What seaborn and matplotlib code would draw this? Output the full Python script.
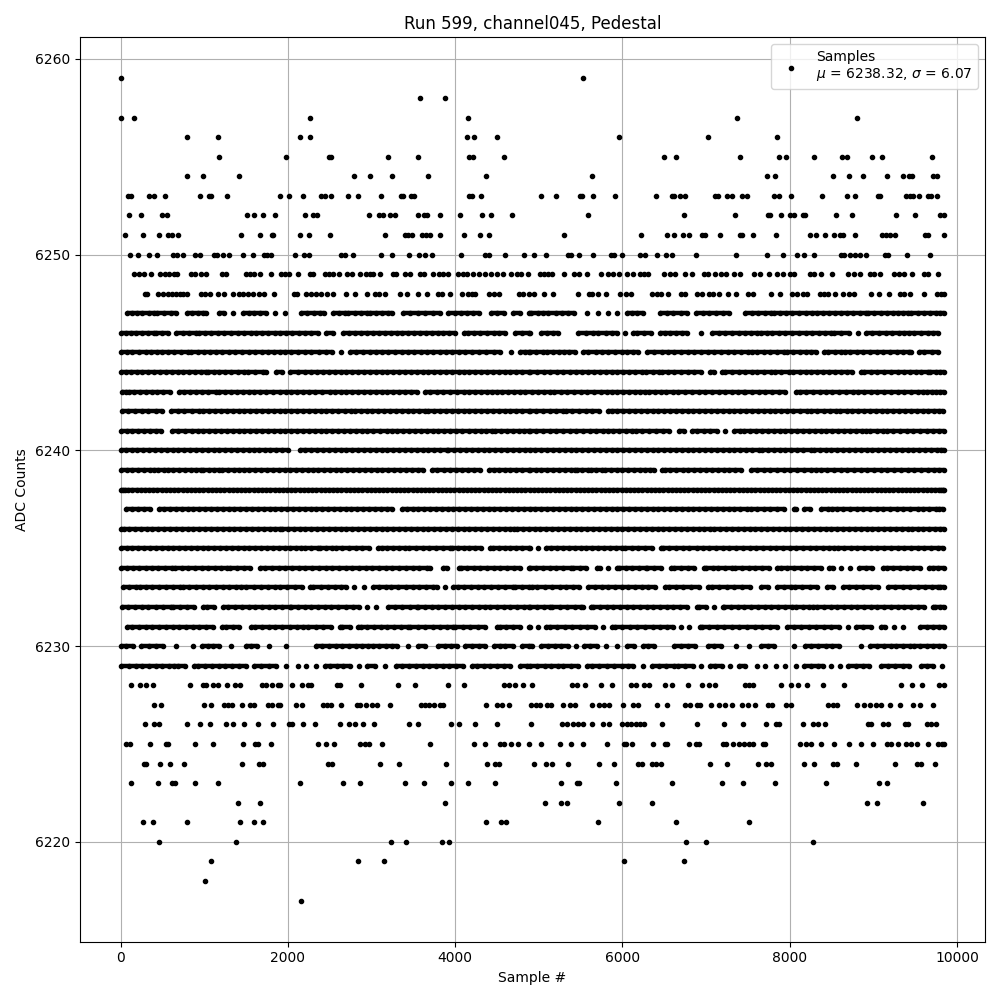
import matplotlib
matplotlib.use("Agg")
import matplotlib.pyplot as plt
import pandas as pd
import seaborn as sns

s6259 = [0, 5532]
s6258 = [3584, 3884]
s6257 = [8, 164, 2264, 4148, 7368, 8808]
s6256 = [788, 1160, 2144, 2264, 4136, 4220, 4496, 5964, 7020, 7848]
s6255 = [1172, 1976, 2492, 2512, 3200, 3560, 4160, 4208, 4580, 6492, 6636, 7404, 7872, 7956, 8292, 8628, 8688, 8988, 9108, 9708]
s6254 = [788, 980, 1412, 2792, 2984, 3248, 3680, 4364, 5640, 7728, 7824, 8520, 8712, 8880, 9168, 9360, 9432, 9468, 9716, 9768]
s6253 = [88, 124, 344, 404, 524, 944, 1052, 1076, 1268, 1904, 2012, 2180, 2392, 2444, 2516, 2720, 2840, 3116, 3356, 3380, 3476, 3512, 4160, 4196, 4304, 5028, 5208, 5496, 5520, 5652, 5916, 6396, 6588, 6612, 6684, 6744, 7104, 7140, 7248, 7308, 7428, 7488, 7812, 7872, 8016, 8388, 8688, 8784, 9060, 9084, 9396, 9444, 9480, 9552, 9660, 9696, 9768]
s6252 = [104, 248, 500, 552, 1508, 1592, 1700, 1844, 2204, 2300, 2348, 2972, 3092, 3140, 3224, 3284, 3560, 3632, 3668, 3824, 4052, 4316, 4424, 4676, 5592, 6732, 7344, 7740, 7764, 7896, 8004, 8052, 8160, 8184, 8556, 8748, 9276, 9504, 9804, 9840]
s6251 = [56, 272, 464, 560, 608, 680, 1436, 1664, 1808, 1820, 2144, 2252, 2504, 3164, 3404, 3440, 3488, 3608, 3656, 3704, 3824, 4100, 4292, 4400, 5304, 6228, 6528, 6612, 6720, 6792, 6948, 6984, 7164, 7404, 7428, 7560, 7836, 8244, 8316, 8424, 8532, 8604, 8640, 8784, 9108, 9156, 9204, 9264, 9624, 9660, 9840]
s6250 = [116, 212, 344, 440, 620, 668, 740, 884, 944, 1112, 1148, 1220, 1292, 1460, 1580, 1712, 1748, 1796, 2084, 2192, 2252, 2636, 2684, 2780, 3116, 3248, 3452, 3572, 3644, 3728, 4064, 4352, 4400, 4592, 4820, 4944, 5088, 5352, 5388, 5484, 5652, 5868, 5904, 6000, 6216, 6276, 6408, 6520, 6588, 6876, 7356, 7728, 7920, 8088, 8172, 8292, 8616, 8652, 8724, 8784, 8844, 8916, 9144, 9180, 9408, 9684]
s6249 = [164, 224, 284, 368, 476, 524, 572, 632, 668, 836, 884, 956, 1016, 1208, 1256, 1496, 1544, 1592, 1664, 1796, 1916, 1964, 2012, 2120, 2264, 2300, 2444, 2492, 2540, 2612, 2708, 2768, 2864, 2936, 2984, 3020, 3104, 3260, 3296, 3404, 3464, 3584, 3632, 3740, 3812, 3860, 3920, 4028, 4088, 4136, 4208, 4280, 4352, 4424, 4496, 4568, 4664, 4736, 4784, 4868, 5016, 5064, 5112, 5160, 5304, 5424, 5484, 5580, 5748, 5832, 5892, 5964, 6060, 6132, 6216, 6264, 6312, 6496, 6564, 6624, 6744, 6828, 6972, 7020, 7104, 7176, 7236, 7332, 7404, 7572, 7644, 7752, 7848, 7920, 8004, 8052, 8244, 8292, 8376, 8508, 8700, 8772, 8844, 8964, 9012, 9084, 9252, 9312, 9372, 9468, 9612, 9660, 9780]
s6248 = [292, 316, 452, 512, 560, 608, 656, 704, 740, 788, 956, 1004, 1064, 1160, 1232, 1340, 1412, 1460, 1520, 1580, 1652, 1712, 1832, 2072, 2108, 2216, 2276, 2336, 2396, 2468, 2540, 2696, 2804, 2948, 3044, 3092, 3164, 3344, 3428, 3560, 3668, 3800, 3848, 3944, 4076, 4148, 4196, 4232, 4400, 4460, 4520, 4760, 4808, 4880, 4944, 5064, 5172, 5468, 5604, 5640, 5712, 5808, 5976, 6048, 6108, 6348, 6408, 6456, 6540, 6696, 6744, 6888, 6948, 7032, 7080, 7152, 7260, 7356, 7500, 7560, 7776, 7884, 8028, 8088, 8160, 8208, 8364, 8412, 8460, 8544, 8640, 8712, 8772, 8976, 9072, 9192, 9324, 9372, 9444, 9612, 9768, 9810, 9844]
s6247 = [80, 140, 200, 260, 340, 400, 440, 520, 600, 660, 788, 850, 920, 980, 1020, 1180, 1240, 1348, 1460, 1530, 1600, 1670, 1740, 1840, 1960, 2160, 2230, 2310, 2380, 2428, 2540, 2610, 2680, 2720, 2800, 2870, 2940, 2980, 3050, 3130, 3200, 3240, 3380, 3460, 3550, 3640, 3732, 3820, 3920, 4000, 4070, 4140, 4210, 4280, 4428, 4500, 4580, 4692, 4770, 4880, 4912, 4992, 5050, 5112, 5204, 5280, 5352, 5424, 5572, 5704, 5832, 5940, 6052, 6110, 6172, 6252, 6452, 6530, 6610, 6700, 6772, 6884, 6964, 7040, 7120, 7200, 7272, 7464, 7552, 7620, 7700, 7772, 7812, 7880, 7952, 8032, 8112, 8190, 8272, 8332, 8400, 8470, 8540, 8610, 8690, 8760, 8840, 8912, 8940, 9010, 9090, 9160, 9232, 9292, 9350, 9412, 9452, 9530, 9612, 9684, 9752, 9800, 9844]
s6246 = [0, 60, 120, 180, 250, 330, 400, 420, 490, 560, 660, 740, 820, 900, 940, 1010, 1080, 1160, 1240, 1320, 1400, 1480, 1560, 1620, 1690, 1760, 1840, 1910, 1980, 2050, 2130, 2200, 2280, 2360, 2460, 2540, 2660, 2730, 2800, 2870, 2950, 3020, 3090, 3160, 3230, 3300, 3370, 3440, 3510, 3580, 3650, 3720, 3790, 3860, 3930, 4000, 4100, 4148, 4220, 4300, 4380, 4460, 4530, 4600, 4720, 4800, 4880, 4892, 5032, 5100, 5170, 5232, 5472, 5560, 5652, 5712, 5800, 5872, 5932, 6030, 6132, 6180, 6260, 6340, 6444, 6512, 6572, 6640, 6710, 6772, 6944, 7072, 7150, 7230, 7310, 7390, 7470, 7540, 7612, 7660, 7732, 7792, 7870, 7950, 8030, 8110, 8190, 8270, 8350, 8420, 8492, 8532, 8620, 8710, 8812, 8912, 8990, 9070, 9150, 9230, 9312, 9372, 9432, 9492, 9570, 9650, 9720, 9780]
s6245 = [0, 70, 140, 220, 300, 360, 430, 500, 570, 640, 720, 800, 840, 920, 1000, 1070, 1140, 1212, 1290, 1370, 1450, 1530, 1610, 1692, 1760, 1830, 1900, 1970, 2040, 2120, 2200, 2280, 2370, 2460, 2528, 2636, 2740, 2820, 2900, 2980, 3050, 3130, 3200, 3280, 3360, 3430, 3510, 3590, 3660, 3740, 3820, 3890, 3960, 4040, 4120, 4200, 4280, 4370, 4460, 4532, 4668, 4772, 4830, 4880, 4892, 4970, 5052, 5100, 5170, 5240, 5300, 5364, 5432, 5532, 5592, 5680, 5752, 5830, 5910, 5990, 6060, 6130, 6192, 6292, 6380, 6472, 6540, 6620, 6700, 6780, 6860, 6940, 7020, 7100, 7180, 7260, 7340, 7420, 7500, 7552, 7612, 7690, 7770, 7850, 7932, 7972, 8040, 8120, 8190, 8252, 8312, 8412, 8464, 8540, 8612, 8664, 8724, 8800, 8880, 8960, 9040, 9120, 9200, 9280, 9360, 9432, 9452, 9552, 9612, 9700, 9770]
s6244 = [0, 60, 120, 190, 260, 330, 400, 470, 540, 610, 680, 750, 820, 890, 960, 1020, 1040, 1110, 1180, 1250, 1320, 1400, 1480, 1520, 1610, 1700, 1740, 1860, 1932, 2030, 2120, 2208, 2280, 2350, 2420, 2490, 2560, 2630, 2700, 2770, 2840, 2910, 2980, 3050, 3120, 3190, 3260, 3330, 3400, 3470, 3540, 3610, 3680, 3750, 3820, 3890, 3960, 4040, 4100, 4170, 4240, 4310, 4380, 4450, 4520, 4590, 4660, 4730, 4800, 4880, 4892, 4980, 5060, 5140, 5220, 5292, 5372, 5450, 5520, 5590, 5660, 5730, 5800, 5870, 5940, 6010, 6080, 6150, 6232, 6284, 6360, 6432, 6472, 6550, 6620, 6700, 6780, 6860, 6940, 7052, 7092, 7192, 7232, 7310, 7390, 7470, 7552, 7612, 7690, 7772, 7820, 7900, 7992, 8044, 8120, 8190, 8260, 8330, 8400, 8470, 8540, 8610, 8680, 8750, 8852, 8892, 8970, 9050, 9130, 9210, 9290, 9370, 9440, 9512, 9572, 9652, 9684, 9750, 9800, 9844]
s6243 = [12, 60, 100, 160, 230, 300, 370, 440, 510, 588, 692, 760, 830, 900, 970, 1050, 1140, 1180, 1250, 1320, 1390, 1460, 1530, 1600, 1670, 1740, 1820, 1900, 1972, 2040, 2110, 2180, 2250, 2320, 2410, 2500, 2560, 2630, 2700, 2770, 2840, 2910, 2980, 3050, 3120, 3190, 3260, 3330, 3400, 3470, 3540, 3640, 3700, 3780, 3860, 3940, 4020, 4100, 4160, 4240, 4310, 4380, 4440, 4500, 4560, 4628, 4700, 4770, 4840, 4924, 4992, 5060, 5132, 5184, 5260, 5340, 5420, 5500, 5580, 5660, 5740, 5810, 5872, 5940, 6010, 6080, 6150, 6210, 6272, 6324, 6392, 6460, 6520, 6600, 6664, 6752, 6830, 6910, 6990, 7070, 7150, 7230, 7310, 7380, 7452, 7472, 7550, 7630, 7710, 7790, 7870, 7950, 8072, 8124, 8200, 8280, 8360, 8432, 8512, 8590, 8670, 8752, 8812, 8890, 8970, 9050, 9130, 9210, 9290, 9370, 9450, 9530, 9590, 9640, 9700, 9750, 9800, 9844]
s6242 = [12, 90, 170, 250, 330, 420, 500, 600, 680, 760, 850, 940, 988, 1060, 1130, 1200, 1270, 1340, 1410, 1480, 1550, 1620, 1690, 1760, 1830, 1900, 1970, 2040, 2110, 2180, 2250, 2320, 2390, 2460, 2530, 2600, 2680, 2760, 2800, 2870, 2940, 3010, 3080, 3150, 3220, 3290, 3360, 3430, 3500, 3570, 3640, 3680, 3750, 3820, 3890, 3960, 4030, 4100, 4170, 4240, 4310, 4380, 4450, 4520, 4590, 4660, 4730, 4800, 4880, 4892, 4970, 5050, 5130, 5210, 5292, 5324, 5400, 5480, 5560, 5640, 5720, 5832, 5872, 5940, 6010, 6080, 6150, 6220, 6290, 6360, 6430, 6500, 6570, 6640, 6710, 6780, 6850, 6920, 6990, 7060, 7130, 7200, 7270, 7340, 7410, 7480, 7550, 7620, 7690, 7760, 7830, 7900, 7970, 8040, 8120, 8212, 8252, 8330, 8410, 8480, 8552, 8604, 8680, 8750, 8820, 8890, 8960, 9030, 9100, 9170, 9240, 9310, 9380, 9450, 9520, 9590, 9660, 9730, 9790, 9830]
s6241 = [0, 70, 140, 210, 280, 350, 420, 480, 612, 690, 770, 852, 920, 990, 1060, 1130, 1200, 1270, 1340, 1410, 1480, 1550, 1620, 1690, 1760, 1830, 1900, 1970, 2040, 2110, 2180, 2250, 2320, 2390, 2460, 2530, 2600, 2670, 2740, 2810, 2880, 2950, 3020, 3100, 3180, 3240, 3310, 3380, 3450, 3520, 3590, 3660, 3730, 3800, 3870, 3940, 4010, 4080, 4160, 4240, 4308, 4370, 4440, 4480, 4550, 4620, 4690, 4760, 4820, 4880, 4892, 4970, 5050, 5130, 5210, 5290, 5370, 5450, 5530, 5610, 5690, 5770, 5832, 5884, 5960, 6040, 6112, 6164, 6240, 6320, 6400, 6480, 6560, 6672, 6732, 6832, 6892, 6970, 7050, 7130, 7224, 7332, 7404, 7460, 7530, 7600, 7670, 7740, 7810, 7880, 7950, 8020, 8090, 8160, 8230, 8300, 8370, 8440, 8510, 8580, 8650, 8720, 8790, 8860, 8912, 8964, 9040, 9112, 9164, 9240, 9320, 9400, 9480, 9560, 9640, 9720, 9790, 9840]
s6240 = [0, 60, 130, 200, 270, 340, 410, 480, 550, 620, 690, 760, 830, 900, 970, 1040, 1110, 1180, 1250, 1320, 1390, 1460, 1530, 1600, 1652, 1720, 1790, 1860, 1930, 2000, 2140, 2210, 2280, 2350, 2420, 2490, 2560, 2630, 2700, 2770, 2840, 2910, 2980, 3050, 3120, 3190, 3260, 3330, 3400, 3470, 3540, 3610, 3680, 3750, 3820, 3900, 3920, 3990, 4060, 4130, 4200, 4270, 4340, 4410, 4480, 4550, 4620, 4690, 4760, 4830, 4892, 4960, 5030, 5100, 5170, 5240, 5310, 5380, 5450, 5520, 5590, 5660, 5730, 5800, 5870, 5940, 6010, 6080, 6150, 6220, 6290, 6360, 6430, 6500, 6570, 6640, 6710, 6780, 6850, 6920, 6990, 7060, 7130, 7200, 7270, 7340, 7410, 7480, 7550, 7632, 7672, 7740, 7810, 7880, 7950, 8020, 8090, 8160, 8252, 8292, 8360, 8430, 8500, 8570, 8640, 8710, 8780, 8850, 8920, 8990, 9060, 9130, 9200, 9270, 9340, 9410, 9480, 9550, 9620, 9690, 9760, 9810, 9844]
s6239 = [0, 70, 140, 210, 280, 350, 400, 452, 520, 560, 628, 700, 770, 840, 900, 960, 988, 1060, 1120, 1180, 1212, 1280, 1350, 1420, 1480, 1540, 1610, 1680, 1750, 1820, 1890, 1960, 2030, 2100, 2170, 2240, 2300, 2360, 2430, 2500, 2570, 2640, 2710, 2780, 2850, 2920, 2990, 3060, 3130, 3200, 3270, 3340, 3410, 3480, 3550, 3620, 3720, 3788, 3868, 3940, 4010, 4080, 4150, 4220, 4300, 4400, 4460, 4520, 4590, 4660, 4730, 4800, 4880, 4892, 4972, 5032, 5100, 5170, 5240, 5310, 5380, 5432, 5452, 5520, 5592, 5620, 5690, 5752, 5792, 5860, 5930, 6000, 6070, 6140, 6210, 6270, 6332, 6372, 6472, 6512, 6572, 6644, 6720, 6790, 6860, 6930, 7000, 7070, 7140, 7210, 7280, 7350, 7420, 7532, 7612, 7690, 7770, 7850, 7930, 8010, 8090, 8170, 8250, 8310, 8372, 8452, 8530, 8610, 8690, 8770, 8850, 8930, 9010, 9090, 9170, 9250, 9330, 9410, 9490, 9570, 9650, 9730, 9790, 9840]
s6238 = [0, 25, 50, 90, 140, 190, 240, 290, 340, 390, 440, 490, 540, 590, 640, 690, 740, 790, 840, 890, 940, 990, 1040, 1090, 1140, 1190, 1240, 1290, 1340, 1390, 1440, 1490, 1540, 1590, 1640, 1690, 1740, 1790, 1840, 1890, 1940, 1990, 2040, 2090, 2140, 2190, 2240, 2290, 2340, 2390, 2440, 2490, 2540, 2590, 2640, 2690, 2740, 2790, 2840, 2890, 2940, 2990, 3040, 3090, 3140, 3190, 3240, 3290, 3340, 3390, 3440, 3490, 3540, 3590, 3640, 3690, 3740, 3790, 3840, 3890, 3940, 3990, 4040, 4090, 4140, 4190, 4240, 4290, 4340, 4390, 4440, 4490, 4540, 4590, 4640, 4690, 4740, 4790, 4840, 4890, 4940, 4990, 5040, 5090, 5140, 5190, 5240, 5290, 5340, 5390, 5440, 5490, 5540, 5590, 5640, 5690, 5740, 5790, 5840, 5890, 5940, 5990, 6040, 6090, 6140, 6190, 6240, 6290, 6340, 6390, 6440, 6490, 6540, 6590, 6640, 6690, 6740, 6790, 6840, 6890, 6940, 6990, 7040, 7090, 7140, 7190, 7240, 7290, 7340, 7390, 7440, 7490, 7540, 7590, 7640, 7690, 7740, 7790, 7840, 7890, 7940, 7990, 8040, 8090, 8140, 8190, 8240, 8290, 8340, 8390, 8440, 8490, 8540, 8590, 8640, 8690, 8740, 8790, 8840, 8890, 8940, 8990, 9040, 9090, 9140, 9190, 9240, 9290, 9340, 9390, 9440, 9490, 9540, 9590, 9640, 9690, 9740, 9790, 9810, 9830, 9844]
s6237 = [68, 140, 210, 280, 350, 460, 520, 590, 660, 730, 800, 870, 940, 1010, 1080, 1150, 1220, 1290, 1360, 1430, 1500, 1570, 1640, 1710, 1780, 1850, 1920, 1990, 2060, 2130, 2200, 2270, 2340, 2410, 2480, 2550, 2620, 2690, 2760, 2830, 2900, 2970, 3040, 3110, 3180, 3250, 3360, 3420, 3490, 3560, 3630, 3700, 3770, 3840, 3910, 3980, 4050, 4120, 4190, 4260, 4330, 4400, 4470, 4540, 4610, 4680, 4750, 4820, 4892, 4960, 5030, 5100, 5170, 5240, 5310, 5380, 5450, 5520, 5590, 5660, 5730, 5800, 5870, 5940, 6010, 6080, 6150, 6220, 6290, 6360, 6430, 6500, 6570, 6640, 6710, 6780, 6850, 6920, 6990, 7060, 7130, 7200, 7270, 7340, 7410, 7492, 7532, 7610, 7690, 7770, 7850, 7930, 8052, 8072, 8170, 8244, 8380, 8460, 8512, 8564, 8640, 8720, 8800, 8880, 8960, 9040, 9120, 9200, 9280, 9360, 9440, 9532, 9592, 9670, 9752, 9792, 9830]
s6236 = [0, 40, 100, 170, 240, 310, 380, 450, 520, 590, 660, 730, 800, 870, 940, 1010, 1080, 1150, 1220, 1290, 1360, 1430, 1500, 1570, 1640, 1710, 1780, 1840, 1900, 1932, 2000, 2070, 2140, 2210, 2280, 2350, 2420, 2490, 2560, 2630, 2700, 2770, 2840, 2910, 2980, 3050, 3120, 3190, 3260, 3330, 3400, 3470, 3540, 3610, 3680, 3750, 3820, 3890, 3960, 4030, 4100, 4170, 4240, 4310, 4380, 4450, 4520, 4590, 4650, 4700, 4740, 4810, 4880, 4950, 5020, 5090, 5160, 5230, 5300, 5370, 5440, 5510, 5580, 5650, 5720, 5790, 5860, 5930, 6000, 6070, 6140, 6210, 6280, 6350, 6420, 6490, 6560, 6630, 6700, 6770, 6840, 6910, 6980, 7052, 7100, 7170, 7240, 7310, 7380, 7450, 7520, 7590, 7660, 7730, 7800, 7870, 7940, 8010, 8080, 8150, 8220, 8290, 8360, 8430, 8500, 8570, 8640, 8710, 8780, 8850, 8920, 8990, 9060, 9130, 9200, 9270, 9340, 9412, 9460, 9530, 9600, 9670, 9740, 9800, 9844]
s6235 = [0, 70, 140, 210, 280, 350, 420, 490, 560, 630, 700, 770, 840, 910, 980, 1050, 1120, 1190, 1260, 1330, 1400, 1470, 1540, 1610, 1680, 1750, 1820, 1890, 1960, 2030, 2100, 2160, 2200, 2280, 2360, 2388, 2460, 2532, 2572, 2650, 2730, 2810, 2890, 2970, 3080, 3120, 3190, 3260, 3330, 3400, 3452, 3530, 3610, 3690, 3770, 3850, 3940, 3960, 4030, 4100, 4170, 4240, 4310, 4420, 4452, 4520, 4590, 4660, 4730, 4800, 4880, 4892, 4990, 5092, 5152, 5220, 5290, 5360, 5430, 5500, 5570, 5640, 5710, 5780, 5850, 5920, 5992, 6032, 6110, 6190, 6270, 6350, 6460, 6484, 6560, 6640, 6720, 6800, 6892, 6964, 7040, 7120, 7200, 7280, 7360, 7440, 7520, 7600, 7680, 7760, 7840, 7920, 8000, 8080, 8160, 8240, 8320, 8400, 8470, 8532, 8580, 8652, 8730, 8810, 8890, 8970, 9050, 9130, 9210, 9290, 9370, 9450, 9530, 9610, 9690, 9770, 9830]
s6234 = [0, 70, 150, 220, 300, 380, 450, 530, 612, 652, 730, 810, 890, 970, 1050, 1130, 1200, 1268, 1308, 1390, 1470, 1550, 1668, 1728, 1812, 1890, 1970, 2050, 2130, 2210, 2290, 2370, 2450, 2530, 2610, 2690, 2770, 2850, 2930, 3010, 3090, 3170, 3250, 3330, 3410, 3490, 3570, 3660, 3700, 3860, 3908, 4040, 4068, 4140, 4220, 4300, 4380, 4460, 4540, 4620, 4700, 4780, 4880, 4892, 4970, 5050, 5130, 5210, 5290, 5380, 5412, 5490, 5570, 5692, 5732, 5830, 5940, 5964, 6040, 6120, 6200, 6284, 6300, 6380, 6460, 6580, 6620, 6700, 6780, 6860, 6972, 7004, 7084, 7140, 7230, 7312, 7352, 7430, 7510, 7590, 7670, 7750, 7852, 7892, 7970, 8050, 8130, 8210, 8290, 8370, 8472, 8524, 8620, 8724, 8832, 8910, 8990, 9112, 9164, 9240, 9320, 9400, 9480, 9560, 9672, 9712, 9780, 9844]
s6233 = [28, 100, 188, 228, 300, 380, 460, 540, 620, 708, 740, 820, 900, 980, 1060, 1140, 1220, 1300, 1380, 1440, 1500, 1590, 1680, 1760, 1840, 1900, 1990, 2080, 2170, 2268, 2300, 2390, 2480, 2560, 2640, 2692, 2792, 2908, 3020, 3090, 3172, 3228, 3320, 3410, 3492, 3572, 3650, 3740, 3780, 3880, 3980, 4028, 4110, 4190, 4270, 4350, 4430, 4510, 4600, 4688, 4720, 4800, 4880, 4924, 4980, 5070, 5160, 5250, 5330, 5412, 5484, 5592, 5672, 5750, 5830, 5910, 5990, 6070, 6150, 6230, 6310, 6390, 6512, 6552, 6640, 6730, 6820, 6910, 7024, 7072, 7160, 7250, 7340, 7430, 7520, 7652, 7740, 7844, 7930, 8012, 8060, 8150, 8240, 8330, 8452, 8524, 8640, 8712, 8792, 8880, 8970, 9060, 9180, 9264, 9352, 9440, 9530, 9620, 9700, 9780, 9804, 9844]
s6232 = [12, 90, 170, 250, 330, 420, 510, 600, 628, 710, 790, 880, 980, 1032, 1120, 1220, 1284, 1370, 1450, 1530, 1610, 1690, 1770, 1850, 1930, 2020, 2040, 2120, 2200, 2280, 2360, 2440, 2520, 2600, 2690, 2780, 2852, 2950, 3048, 3200, 3280, 3370, 3460, 3540, 3560, 3640, 3720, 3800, 3880, 3960, 4040, 4120, 4200, 4280, 4360, 4420, 4500, 4580, 4660, 4740, 4820, 4880, 4892, 4980, 5060, 5132, 5164, 5250, 5340, 5430, 5500, 5524, 5624, 5652, 5730, 5810, 5890, 5970, 6050, 6130, 6210, 6290, 6370, 6450, 6530, 6610, 6690, 6770, 6892, 6912, 7000, 7100, 7204, 7220, 7300, 7380, 7460, 7540, 7620, 7700, 7780, 7860, 7940, 8032, 8080, 8160, 8232, 8284, 8332, 8410, 8490, 8570, 8650, 8730, 8810, 8890, 8970, 9050, 9130, 9210, 9290, 9370, 9450, 9530, 9610, 9712, 9740, 9800, 9844]
s6231 = [72, 140, 220, 300, 380, 460, 540, 620, 700, 780, 860, 940, 1020, 1100, 1212, 1260, 1340, 1420, 1560, 1612, 1688, 1770, 1850, 1930, 2020, 2108, 2180, 2240, 2330, 2420, 2510, 2620, 2652, 2740, 2840, 2868, 2950, 3030, 3110, 3190, 3270, 3350, 3440, 3460, 3550, 3640, 3730, 3820, 3900, 3980, 4000, 4090, 4180, 4270, 4360, 4500, 4532, 4610, 4690, 4770, 4880, 4892, 4990, 5092, 5132, 5220, 5310, 5400, 5490, 5580, 5670, 5770, 5872, 5912, 6000, 6090, 6180, 6270, 6360, 6450, 6532, 6604, 6700, 6800, 6924, 6952, 7040, 7130, 7220, 7310, 7400, 7490, 7580, 7670, 7760, 7852, 7964, 8050, 8140, 8230, 8320, 8410, 8500, 8590, 8692, 8792, 8880, 8970, 9092, 9140, 9252, 9352, 9564, 9640, 9720, 9790, 9844]
s6230 = [0, 68, 148, 248, 340, 420, 512, 660, 868, 972, 1040, 1100, 1172, 1320, 1500, 1560, 1628, 1772, 1980, 2332, 2410, 2490, 2570, 2650, 2730, 2810, 2880, 2960, 3020, 3092, 3172, 3240, 3308, 3440, 3560, 3640, 3800, 3880, 3950, 4020, 4120, 4200, 4280, 4360, 4460, 4532, 4600, 4692, 4800, 4880, 4924, 5032, 5110, 5190, 5270, 5350, 5444, 5540, 5612, 5700, 5800, 5940, 6052, 6140, 6244, 6312, 6372, 6620, 6700, 6790, 6872, 7024, 7100, 7180, 7356, 7512, 7660, 7740, 7812, 8052, 8180, 8260, 8340, 8430, 8512, 8592, 8852, 8964, 9050, 9130, 9212, 9272, 9360, 9444, 9484, 9560, 9640, 9720, 9790, 9844]
s6229 = [8, 100, 180, 260, 340, 420, 500, 580, 640, 680, 770, 880, 928, 1010, 1090, 1170, 1250, 1330, 1410, 1500, 1600, 1680, 1770, 1860, 1980, 2116, 2220, 2330, 2448, 2500, 2590, 2660, 2748, 2852, 2950, 3040, 3160, 3288, 3370, 3450, 3530, 3610, 3690, 3770, 3850, 3930, 4010, 4090, 4200, 4260, 4340, 4420, 4500, 4580, 4660, 4780, 4860, 4892, 4980, 5070, 5150, 5232, 5292, 5380, 5470, 5572, 5632, 5720, 5810, 5900, 5990, 6070, 6132, 6252, 6352, 6440, 6520, 6612, 6660, 6750, 6840, 6940, 7052, 7112, 7192, 7290, 7392, 7464, 7604, 7700, 7832, 7948, 8072, 8172, 8250, 8340, 8404, 8500, 8600, 8700, 8792, 8872, 8952, 9092, 9180, 9260, 9352, 9432, 9572, 9640, 9712, 9820]
s6228 = [120, 232, 300, 392, 824, 980, 1020, 1100, 1160, 1268, 1368, 1428, 1688, 1740, 1808, 1880, 1900, 2048, 2168, 2240, 2280, 2588, 2628, 2876, 3320, 3520, 3920, 4100, 4580, 4640, 4712, 4808, 4920, 5400, 5460, 5556, 5748, 5880, 6108, 6168, 6264, 6324, 6504, 6588, 6780, 6948, 7032, 7104, 7464, 7512, 7560, 7896, 8016, 8100, 8208, 8400, 8652, 9336, 9468, 9588, 9792, 9840]
s6227 = [404, 488, 992, 1076, 1232, 1280, 1328, 1448, 1548, 1592, 1760, 1808, 1880, 1904, 2096, 2168, 2420, 2468, 2520, 2636, 2828, 2860, 2936, 3008, 3060, 3224, 3588, 3640, 3688, 3752, 3820, 3860, 4368, 4500, 4560, 4640, 4912, 4972, 5012, 5100, 5148, 5288, 5376, 5436, 5640, 5724, 5784, 5844, 6012, 6132, 6192, 6408, 6528, 6744, 6804, 6888, 6924, 7056, 7152, 7224, 7308, 7428, 7500, 7584, 7740, 7788, 7956, 8016, 8460, 8520, 8568, 8808, 8892, 8964, 9036, 9092, 9204, 9324, 9480, 9564, 9716]
s6226 = [296, 404, 464, 788, 944, 1064, 1256, 1340, 1472, 1640, 1820, 2012, 2052, 2180, 2324, 2624, 2732, 2804, 2900, 3032, 3452, 3560, 3956, 4040, 4240, 4496, 4912, 5276, 5332, 5412, 5472, 5532, 5640, 5772, 5844, 6000, 6060, 6108, 6168, 6216, 6264, 6468, 6888, 7212, 7440, 7716, 7836, 7872, 8160, 8280, 8340, 8424, 8940, 8976, 9120, 9180, 9384, 9420, 9648, 9696, 9756]
s6225 = [60, 108, 356, 540, 568, 884, 1100, 1460, 1604, 1640, 1796, 2360, 2460, 2552, 2864, 2924, 2972, 3128, 3704, 4220, 4352, 4540, 4580, 4664, 4748, 4880, 5028, 5256, 5388, 5532, 5820, 6024, 6048, 6120, 6360, 6504, 6528, 6792, 6876, 6912, 7200, 7236, 7320, 7392, 7452, 7512, 7560, 7680, 7704, 8124, 8196, 8256, 8376, 8532, 8712, 8856, 9000, 9168, 9216, 9300, 9396, 9456, 9528, 9660, 9780, 9816, 9840]
s6224 = [284, 308, 476, 588, 752, 1448, 1652, 1700, 2480, 2528, 3104, 3332, 3896, 4376, 4476, 4524, 4944, 5088, 5160, 5352, 5724, 5904, 6192, 6240, 6348, 6396, 6456, 7044, 7248, 7620, 7716, 7776, 8172, 8292, 8520, 8568, 8796, 9264, 9528, 9576, 9744]
s6223 = [128, 452, 608, 644, 884, 1160, 2144, 2660, 2864, 3404, 3632, 3956, 4148, 4472, 5268, 5460, 5484, 5928, 6588, 7188, 7440, 7824, 8436, 9072, 9168]
s6222 = [1400, 1664, 3884, 5076, 5268, 5340, 5964, 6348, 8928, 9048, 9600]
s6221 = [272, 392, 788, 1424, 1592, 1700, 4364, 4544, 4604, 5712, 6636, 7512]
s6220 = [464, 1376, 3236, 3416, 3848, 3932, 6756, 6996, 8280]
s6219 = [1076, 2840, 3152, 6024, 6732]
s6218 = [1004]
s6217 = [2156]

levels = [6259, 6258, 6257, 6256, 6255, 6254, 6253, 6252, 6251, 6250, 6249, 6248, 6247, 6246, 6245, 6244, 6243, 6242, 6241, 6240, 6239, 6238, 6237, 6236, 6235, 6234, 6233, 6232, 6231, 6230, 6229, 6228, 6227, 6226, 6225, 6224, 6223, 6222, 6221, 6220, 6219, 6218, 6217]
samples = [s6259, s6258, s6257, s6256, s6255, s6254, s6253, s6252, s6251, s6250, s6249, s6248, s6247, s6246, s6245, s6244, s6243, s6242, s6241, s6240, s6239, s6238, s6237, s6236, s6235, s6234, s6233, s6232, s6231, s6230, s6229, s6228, s6227, s6226, s6225, s6224, s6223, s6222, s6221, s6220, s6219, s6218, s6217]

title = "Run 599, channel045, Pedestal"
legend_label = "Samples\n$\\mu$ = 6238.32, $\\sigma$ = 6.07"
dense_levels = range(6229, 6248)   # rows whose dots merge into solid runs
merge_gap = 92                     # neighbouring read dots this close touch in the picture

df = pd.DataFrame(
    [(x, lv) for lv, xs in zip(levels, samples) for x in xs],
    columns=["Sample #", "ADC Counts"],
)

fig, ax = plt.subplots(figsize=(10, 10), dpi=100)
sns.scatterplot(
    data=df, x="Sample #", y="ADC Counts", ax=ax, marker=".", s=36,
    color="black", edgecolor="black", linewidth=1, label=legend_label, zorder=2,
)
for lv, xs in zip(levels, samples):
    if lv in dense_levels:
        pairs = [(a, b) for a, b in zip(xs, xs[1:]) if b - a <= merge_gap]
        ax.hlines([lv] * len(pairs), [p[0] for p in pairs], [p[1] for p in pairs],
                  color="black", linewidth=3.2, zorder=2)
ax.grid(True)
ax.set_axisbelow(True)
ax.set_title(title)
ax.legend(loc="upper right", fontsize=10)
fig.tight_layout()
fig.savefig("out.png", dpi=100)
